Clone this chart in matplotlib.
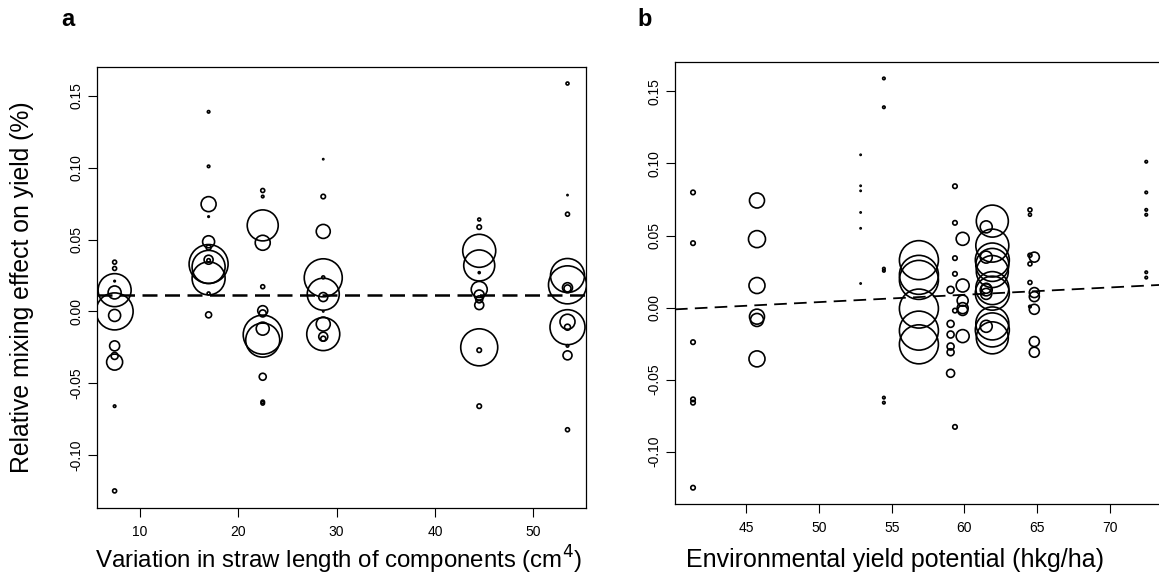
import matplotlib
matplotlib.use("Agg")
import matplotlib.pyplot as plt
import numpy as np

plt.rcParams['font.family'] = ['Liberation Sans', 'DejaVu Sans']

# ---------------- Panel a data ----------------
a_x_groups = [7.45, 17.0, 22.5, 28.65, 44.5, 53.47]
a_y = [
    [0.0343, 0.0299, 0.0211, 0.0148, 0.0132, 0.0000, -0.0028, -0.0240, -0.0310, -0.0353, -0.0660, -0.1250],
    [0.1390, 0.1010, 0.0747, 0.0660, 0.0485, 0.0445, 0.0360, 0.0355, 0.0330, 0.0310, 0.0230, 0.0125, -0.0024],
    [0.0842, 0.0800, 0.0599, 0.0478, 0.0172, 0.0005, -0.0014, -0.0120, -0.0162, -0.0200, -0.0455, -0.0630, -0.0640],
    [0.1060, 0.0800, 0.0557, 0.0237, 0.0234, 0.0120, 0.0100, 0.0000, -0.0088, -0.0158, -0.0176, -0.0190],
    [0.0640, 0.0587, 0.0422, 0.0320, 0.0270, 0.0153, 0.0114, 0.0084, 0.0044, -0.0250, -0.0270, -0.0660],
    [0.1587, 0.0810, 0.0677, 0.0250, 0.0185, 0.0165, 0.0160, -0.0072, -0.0110, -0.0110, -0.0240, -0.0306, -0.0824],
]
a_weight = [
    [4, 4, 1.5, 33, 13, 37, 12, 10, 7, 16, 2.5, 4],
    [2.5, 2.5, 15, 1.5, 12, 5, 9, 3.5, 39, 33, 33, 3, 6],
    [4, 2.5, 31, 15, 4, 10, 7, 13, 39, 34, 7, 3.5, 3.5],
    [1.2, 4.5, 14, 3, 38, 32, 9, 1.2, 14, 33, 9, 5],
    [3, 4.5, 33, 31, 2, 16, 10, 7, 9, 37, 4.5, 4.5],
    [3, 1.2, 4, 34, 38, 10, 7, 15, 35, 6, 2.5, 9, 4],
]
a_fit_level = 0.0113

# ---------------- Panel b data ----------------
b_x_groups = [41.33, 45.73, 52.86, 54.46, 56.87, 59.05, 59.35, 59.88, 61.5, 61.92, 64.51, 64.81, 72.51]
b_y = [
    [0.0799, 0.0447, -0.0240, -0.0637, -0.0660, -0.1250],
    [0.0743, 0.0475, 0.0153, -0.0063, -0.0086, -0.0356],
    [0.1060, 0.0845, 0.0810, 0.0660, 0.0550, 0.0167],
    [0.1590, 0.1390, 0.0270, 0.0255, -0.0625, -0.0660],
    [0.0329, 0.0227, 0.0192, -0.0007, -0.0160, -0.0255],
    [0.0123, -0.0113, -0.0187, -0.0270, -0.0310, -0.0456],
    [0.0842, 0.0588, 0.0343, 0.0234, -0.0021, -0.0828],
    [0.0477, 0.0153, 0.0048, -0.0004, -0.0020, -0.0198],
    [0.0560, 0.0350, 0.0134, 0.0123, 0.0095, -0.0130],
    [0.0600, 0.0430, 0.0330, 0.0296, 0.0250, 0.0135, 0.0100, -0.0110, -0.0155, -0.0210],
    [0.0678, 0.0644, 0.0363, 0.0303, 0.0174, 0.0007],
    [0.0350, 0.0104, 0.0076, -0.0012, -0.0236, -0.0310],
    [0.1012, 0.0799, 0.0678, 0.0644, 0.0245, 0.0208],
]
b_weight = [
    [4.5, 4.5, 4.5, 4.5, 4.5, 4.5],
    [15, 17, 16, 15, 13, 16],
    [1.2, 1.2, 1.2, 1.2, 1.2, 1.2],
    [2.5, 2.5, 2.5, 2.5, 2.5, 2.5],
    [39, 39, 39, 39, 39, 39],
    [7, 7, 7, 7, 7, 8],
    [4.5, 4.5, 4.5, 4.5, 4.5, 4.5],
    [13, 13, 11, 11, 10, 13],
    [12, 12, 10, 12, 11, 12],
    [32, 33, 34, 33, 32, 33, 34, 33, 34, 32],
    [4, 3, 4, 4, 4, 2.5],
    [10, 10, 10, 10, 10, 10],
    [2.5, 2.5, 2.5, 2.5, 2.5, 2.5],
]
b_fit_intercept = -0.0216
b_fit_slope = 0.000508

y_ticks = [-0.10, -0.05, 0.00, 0.05, 0.10, 0.15]
y_ticklabels = ["-0.10", "-0.05", "0.00", "0.05", "0.10", "0.15"]
a_x_ticks = [10, 20, 30, 40, 50]
b_x_ticks = [45, 50, 55, 60, 65, 70]

W, H = 1159, 579
fig = plt.figure(figsize=(W / 100, H / 100), dpi=100)


def px2fig(l, r, t, b):
    return [l / W, 1 - b / H, (r - l) / W, (b - t) / H]


def flatten(groups, ys, ws):
    xs, yy, ss = [], [], []
    for g, yl, wl in zip(groups, ys, ws):
        for yv, wv in zip(yl, wl):
            xs.append(g)
            yy.append(yv)
            ss.append((wv * 0.72) ** 2)
    return xs, yy, ss


def style(ax, xticks, yl):
    ax.set_yticks(y_ticks)
    ax.set_yticklabels(y_ticklabels, rotation=90, va='center', fontsize=10)
    ax.set_xticks(xticks)
    ax.set_xticklabels([str(t) for t in xticks], fontsize=10)
    ax.tick_params(direction='out', length=6.5, width=0.8, pad=3)
    ax.tick_params(axis='x', pad=6)
    for s in ax.spines.values():
        s.set_linewidth(0.9)
    ax.set_ylim(*yl)


LW = 1.2

# Panel a
ax1 = fig.add_axes(px2fig(97, 586, 67, 508))
xs, ys, ss = flatten(a_x_groups, a_y, a_weight)
ax1.scatter(xs, ys, s=ss, facecolors='none', edgecolors='black', linewidths=LW, zorder=3)
ax1.axhline(a_fit_level, color='black', lw=1.8, dashes=(6, 3), zorder=2)
ax1.set_xlim(5.66, 55.35)
style(ax1, a_x_ticks, (-0.1369, 0.1702))
fig.text(22 / W, 1 - 287 / H, "Relative mixing effect on yield (%)", fontsize=17.8,
         rotation=90, ha='center', va='center')
fig.text(339 / W, 1 - 560 / H, "Variation in straw length of components (cm$^4$)",
         fontsize=17.3, ha='center', va='center')

# Panel b
ax2 = fig.add_axes(px2fig(675, 1165, 62, 504))
xs, ys, ss = flatten(b_x_groups, b_y, b_weight)
ax2.scatter(xs, ys, s=ss, facecolors='none', edgecolors='black', linewidths=LW, zorder=3)
xl = np.array([40.09, 73.8])
ax2.plot(xl, b_fit_intercept + b_fit_slope * xl, color='black', lw=1.3, dashes=(7, 4), zorder=2)
ax2.set_xlim(40.09, 73.8)
style(ax2, b_x_ticks, (-0.1363, 0.1704))
fig.text(895 / W, 1 - 560 / H, "Environmental yield potential (hkg/ha)", fontsize=18,
         ha='center', va='center')

fig.text(68 / W, 1 - 20 / H, "a", fontsize=17, fontweight='bold', ha='center', va='center')
fig.text(645 / W, 1 - 19 / H, "b", fontsize=17, fontweight='bold', ha='center', va='center')

fig.savefig("out.png", dpi=100)
